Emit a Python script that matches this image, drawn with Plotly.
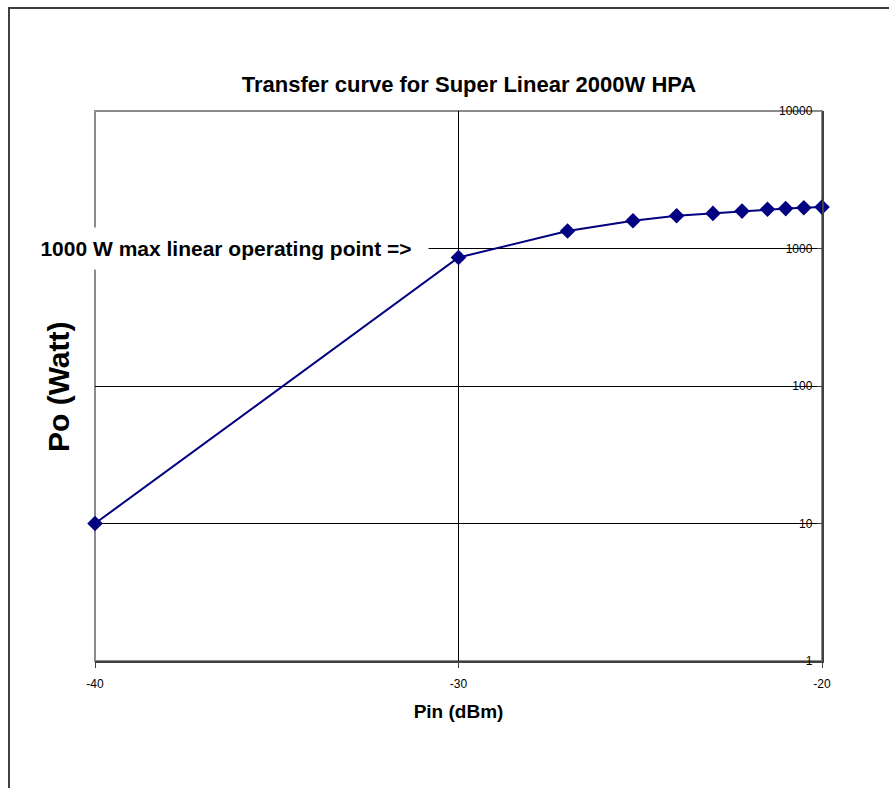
import plotly.graph_objects as go

# Data
pin_dbm = [-40, -30, -27, -25.2, -24, -23, -22.2, -21.5, -21, -20.5, -20]
po_watt = [10, 860, 1340, 1590, 1730, 1800, 1870, 1930, 1950, 1980, 2000]

x_ticks = [-40, -30, -20]
x_tick_labels = ["-40", "-30", "-20"]
y_ticks = [1, 10, 100, 1000, 10000]
y_tick_labels = ["1", "10", "100", "1000", "10000"]

title_text = "Transfer curve for Super Linear 2000W HPA"
x_title = "Pin (dBm)"
y_title = "Po (Watt)"
note_text = "1000 W max linear operating point =>"

W, H = 889, 788
L, R, T, B = 95, 889 - 822, 111, 788 - 661
PW, PH = W - L - R, H - T - B

def px_x(px):
    return (px - L) / PW

def px_y(py):
    return (H - B - py) / PH

FONT = "Liberation Sans, Arial, sans-serif"
NAVY = "#000080"

fig = go.Figure()
fig.add_trace(go.Scatter(
    x=pin_dbm, y=po_watt, mode="lines+markers",
    line=dict(color=NAVY, width=2),
    marker=dict(symbol="diamond", size=12, color=NAVY),
    showlegend=False, cliponaxis=False,
))

fig.update_layout(
    width=W, height=H,
    margin=dict(l=L, r=R, t=T, b=B, pad=0),
    paper_bgcolor="white", plot_bgcolor="white",
    font=dict(family=FONT, color="black"),
    title=dict(text="<b>" + title_text + "</b>", xref="paper", x=px_x(469), xanchor="center",
               yref="container", y=1 - 84 / H, yanchor="middle",
               font=dict(size=22, family=FONT, color="black")),
    xaxis=dict(
        range=[-40, -20], tickvals=x_ticks, ticktext=x_tick_labels,
        showgrid=True, gridcolor="black", gridwidth=1,
        showline=True, linecolor="#404040", linewidth=2,
        ticks="outside", ticklen=5, tickcolor="#404040", tickwidth=1,
        ticklabelstandoff=6,
        tickfont=dict(size=12, family=FONT, color="black"),
        title=dict(text="<b>" + x_title + "</b>", font=dict(size=19, family=FONT, color="black"), standoff=14),
        zeroline=False,
    ),
    yaxis=dict(
        type="log", range=[0, 4], side="right",
        tickvals=y_ticks, ticktext=y_tick_labels,
        showgrid=True, gridcolor="black", gridwidth=1,
        showline=True, linecolor="#404040", linewidth=2,
        ticks="inside", ticklen=5, tickcolor="#404040", tickwidth=1,
        ticklabelposition="inside", ticklabeloverflow="allow",
        ticklabelstandoff=4,
        tickfont=dict(size=12, family=FONT, color="black"),
        zeroline=False,
    ),
    shapes=[
        # plot-area border (grey, top and left visible)
        dict(type="rect", xref="paper", yref="paper", x0=0, x1=1, y0=0, y1=1,
             line=dict(color="#8c8c8c", width=2), layer="below"),
        # outer chart frame, cut by the picture edge
        dict(type="rect", xref="paper", yref="paper",
             x0=px_x(9), x1=px_x(900), y0=px_y(900), y1=px_y(8),
             line=dict(color="#404040", width=2), layer="below"),
    ],
    annotations=[
        dict(text="<b>" + note_text + "</b>", xref="paper", yref="paper",
             x=px_x(226), y=px_y(248), xanchor="center", yanchor="middle",
             width=404, height=41, bgcolor="white", borderpad=0, showarrow=False,
             font=dict(size=21, family=FONT, color="black")),
        dict(text="<b>" + y_title + "</b>", xref="paper", yref="paper",
             x=px_x(58), y=px_y(387), xanchor="center", yanchor="middle",
             textangle=-90, showarrow=False,
             font=dict(size=30, family=FONT, color="black")),
    ],
)

fig.write_html("out.html", config={"displayModeBar": False},
               post_script="document.body.style.margin='0';")
